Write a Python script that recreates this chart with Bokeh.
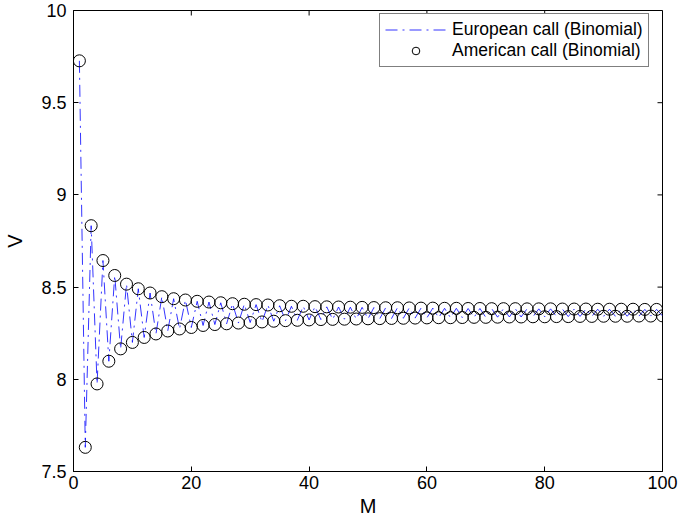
import math
from bokeh.plotting import figure
from bokeh.models import Range1d, FixedTicker, Legend, LegendItem
from bokeh.embed import file_html
from bokeh.resources import INLINE

# ---- data ----
M = list(range(1, 101))
european_V = [
    9.727, 7.631, 8.833, 7.975, 8.644, 8.098, 8.563, 8.165, 8.516, 8.200,
    8.491, 8.227, 8.468, 8.246, 8.448, 8.262, 8.437, 8.273, 8.430, 8.281,
    8.423, 8.292, 8.419, 8.297, 8.415, 8.301, 8.410, 8.305, 8.407, 8.308,
    8.405, 8.311, 8.403, 8.315, 8.399, 8.318, 8.396, 8.320, 8.396, 8.322,
    8.394, 8.324, 8.393, 8.325, 8.392, 8.326, 8.391, 8.327, 8.390, 8.328,
    8.389, 8.329, 8.388, 8.330, 8.388, 8.331, 8.387, 8.332, 8.386, 8.333,
    8.386, 8.334, 8.385, 8.334, 8.385, 8.335, 8.384, 8.336, 8.384, 8.336,
    8.383, 8.337, 8.383, 8.338, 8.383, 8.338, 8.382, 8.339, 8.382, 8.339,
    8.382, 8.340, 8.381, 8.340, 8.381, 8.341, 8.381, 8.341, 8.380, 8.342,
    8.380, 8.342, 8.380, 8.342, 8.380, 8.343, 8.379, 8.343, 8.379, 8.344,
]
# American call (no dividends) coincides with the European one
american_V = list(european_V)

x_ticks = [0, 20, 40, 60, 80, 100]
y_ticks = [7.5, 8, 8.5, 9, 9.5, 10]
y_tick_labels = ["7.5", "8", "8.5", "9", "9.5", "10"]
x_lim = (0, 100)
y_lim = (7.5, 10)

FONT = "Liberation Sans"

p = figure(width=678, height=524, output_backend="svg", toolbar_location=None,
           x_range=Range1d(*x_lim), y_range=Range1d(*y_lim),
           min_border_left=73, min_border_right=16, min_border_top=10, min_border_bottom=53,
           background_fill_color="white", border_fill_color="white")
p.grid.visible = False
p.outline_line_color = "black"
p.outline_line_width = 1


def style_axis(ax):
    ax.axis_line_color = "black"
    ax.axis_line_width = 1
    ax.major_tick_in = 5
    ax.major_tick_out = 0
    ax.minor_tick_line_color = None
    ax.major_tick_line_color = "black"
    ax.major_label_text_font = FONT
    ax.major_label_text_font_size = "18px"
    ax.major_label_text_color = "black"
    ax.axis_label_text_font = FONT
    ax.axis_label_text_font_size = "20px"
    ax.axis_label_text_font_style = "normal"
    ax.axis_label_text_color = "black"


xa = p.xaxis[0]
xa.ticker = FixedTicker(ticks=x_ticks)
style_axis(xa)
xa.major_label_standoff = 4
xa.axis_label = "M"
xa.axis_label_standoff = 3

ya = p.yaxis[0]
ya.ticker = FixedTicker(ticks=y_ticks)
overrides = {}
for t, lab in zip(y_ticks, y_tick_labels):
    key = int(t) if float(t).is_integer() else t
    overrides[key] = lab
ya.major_label_overrides = overrides
style_axis(ya)
ya.major_label_standoff = 7
ya.axis_label = "V"
ya.axis_label_standoff = 12

# inward ticks on the top and right edges of the box (MATLAB style)
p.ray(x=x_ticks, y=[y_lim[1]] * len(x_ticks), length=5, length_units="screen",
      angle=-math.pi / 2, line_color="black", line_width=1)
p.ray(x=[x_lim[1]] * len(y_ticks), y=y_ticks, length=5, length_units="screen",
      angle=math.pi, line_color="black", line_width=1)

line_r = p.line(M, european_V, line_color="#0000ff", line_width=0.8, line_dash="12 5 2 5")
circ_r = p.scatter(M, american_V, marker="circle", size=12, fill_color=None,
                   line_color="black", line_width=1)

legend = Legend(items=[
    LegendItem(label="European call (Binomial)", renderers=[line_r]),
    LegendItem(label="American call (Binomial)", renderers=[circ_r]),
], location=(306, 404))
legend.label_text_font = FONT
legend.label_text_font_size = "17.5px"
legend.label_text_color = "black"
legend.border_line_color = "black"
legend.border_line_width = 1
legend.background_fill_color = "white"
legend.background_fill_alpha = 1
legend.margin = 0
legend.padding = 5
legend.spacing = 0
legend.label_height = 19
legend.glyph_height = 19
legend.glyph_width = 61
legend.label_standoff = 6
p.add_layout(legend, "center")

open("out.html", "w").write(file_html(p, INLINE))
